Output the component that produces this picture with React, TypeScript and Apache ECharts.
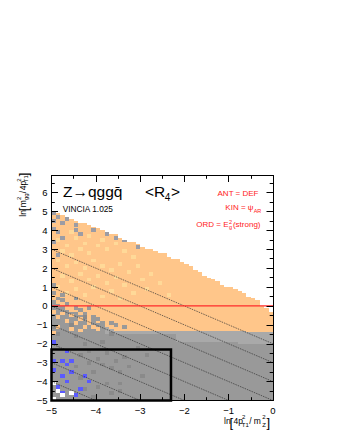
import React, { useEffect, useRef } from 'react';
import * as echarts from 'echarts';

// ---- axes ----
const X_MIN = -5, X_MAX = 0, Y_MIN = -5, Y_MAX = 6.9;
const BIN_X = 0.1, BIN_Y = 0.1;
const NCOL = 50, NROW = 120;

// ---- histogram shape, one value per x column (left edges -5.0 ... -0.1) ----
const upperEdge = [
  5.0, 4.9, 4.8, 4.7, 4.6, 4.5, 4.45, 4.35, 4.3, 4.2,
  4.1, 4.0, 3.9, 3.8, 3.75, 3.65, 3.55, 3.45, 3.35, 3.25,
  3.15, 3.05, 3.0, 2.9, 2.85, 2.75, 2.65, 2.55, 2.45, 2.3,
  2.2, 2.1, 1.95, 1.8, 1.65, 1.5, 1.4, 1.3, 1.15, 1.05,
  1.0, 0.9, 0.8, 0.7, 0.55, 0.4, 0.25, 0.05, -0.1, -0.3,
];
const orangeBottom = [
  0.3, 0.1, 0.0, -0.2, -0.3, -0.3, -0.5, -0.6, -0.8, -0.7,
  -0.9, -1.0, -1.1, -1.2, -1.3, -1.3, -1.3, -1.3, -1.3, -1.3,
  -1.3, -1.3, -1.3, -1.3, -1.3, -1.3, -1.3, -1.3, -1.3, -1.3,
  -1.3, -1.3, -1.3, -1.3, -1.3, -1.3, -1.3, -1.3, -1.3, -1.3,
  -1.3, -1.3, -1.3, -1.3, -1.4, -1.4, -1.4, -1.4, -1.4, -1.4,
];
const lightGrayBottom = [
  0.3, 0.1, 0.0, -0.2, -0.3, -0.3, -0.5, -0.6, -0.8, -0.7,
  -0.9, -1.0, -1.5, -1.5, -1.5, -1.5, -1.5, -1.5, -1.5, -1.5,
  -1.5, -1.5, -1.5, -1.5, -1.5, -1.5, -1.5, -1.5, -1.9, -1.9,
  -1.9, -1.9, -1.9, -1.9, -1.9, -1.9, -1.9, -1.9, -1.9, -1.9,
  -1.9, -1.9, -2.0, -2.0, -2.0, -2.0, -2.0, -2.0, -2.0, -2.0,
];

// ---- individual cells ----
const paleCells = [
  [-4.9, 3.4], [-4.7, 3.1], [-4.5, 3.5], [-4.3, 3.2], [-4.8, 2.8], [-4.6, 2.6], [-4.4, 2.9], [-4.2, 2.7],
  [-4.0, 3.1], [-3.8, 2.9], [-3.6, 3.2], [-3.4, 2.8], [-3.2, 2.5], [-4.9, 2.3], [-4.7, 2.0], [-4.5, 2.2],
  [-4.3, 1.9], [-4.1, 2.3], [-3.9, 2.0], [-3.7, 1.8], [-3.5, 2.1], [-3.3, 1.7], [-3.1, 2.0], [-4.8, 1.5],
  [-4.6, 1.2], [-4.4, 1.6], [-4.2, 1.3], [-4.0, 1.5], [-3.8, 1.1], [-3.6, 1.4], [-3.4, 1.0], [-3.0, 1.3],
  [-2.8, 1.6], [-4.9, 0.9], [-4.7, 0.6], [-4.5, 0.8], [-4.3, 0.5], [-4.1, 0.9], [-3.9, 0.4], [-3.7, 0.7],
  [-3.5, 0.3], [-3.2, 0.6], [-2.9, 0.8], [-2.6, 1.1], [-2.4, 0.5], [-4.6, 3.8], [-4.2, 3.6], [-3.9, 3.4],
];
const grayDots = [
  [-4.95, 4.8], [-4.95, 4.4], [-4.95, 4.0], [-4.85, 4.6], [-4.75, 4.35], [-4.85, 3.8],
  [-4.75, 3.55], [-4.65, 4.5], [-4.45, 4.25], [-4.35, 4.45], [-4.45, 3.95],
  [-4.15, 4.3], [-4.05, 3.9], [-4.4, 3.7], [-3.75, 3.75], [-3.55, 3.55],
  [-3.35, 3.4], [-3.05, 3.05], [-4.95, 3.3], [-4.85, 2.6],
];
const grayInMix = [
  [-4.95, 0.6], [-4.85, 0.35], [-4.75, 0.2], [-4.65, 0.0], [-4.45, -0.2], [-4.35, -0.3],
  [-4.25, -0.45], [-4.05, -0.7], [-3.95, -0.8], [-3.85, -0.95], [-3.65, -1.0], [-3.55, -1.1],
  [-3.35, -1.15], [-4.75, 0.55], [-4.45, 0.3], [-4.95, 1.0], [-4.15, -0.15],
];
const orangeInMix = [
  [-4.95, -0.4], [-4.85, -0.7], [-4.75, -0.5], [-4.65, -0.9], [-4.55, -0.6], [-4.45, -1.0], [-4.35, -0.8],
  [-4.25, -1.15], [-4.15, -1.0], [-4.05, -1.2], [-3.95, -1.25], [-4.85, -1.2], [-4.6, -1.3], [-4.95, -1.5],
  [-4.35, -1.4],
];
const darkCells = [
  [-4.95, -1.2], [-4.55, -1.1], [-4.25, -0.7], [-4.9, -1.6], [-4.5, -1.7],
  [-4.3, -2.1], [-3.9, -2.0], [-3.7, -1.6], [-4.4, -2.7], [-4.2, -2.5],
  [-4.0, -2.9], [-3.8, -2.6], [-3.6, -3.0], [-3.4, -2.8], [-4.5, -3.3], [-4.2, -3.1],
  [-3.9, -3.2], [-3.7, -3.4], [-3.5, -3.6], [-3.3, -3.3], [-4.4, -3.9], [-4.1, -3.6],
  [-3.8, -4.2], [-3.5, -4.2], [-4.3, -4.5], [-4.0, -4.4], [-4.1, -4.9],
  [-3.7, -4.7], [-3.0, -3.8], [-2.9, -2.7], [-3.1, -2.3], [-3.45, -4.6],
];
const blueCells = [
  [-4.96, -1.98], [-4.62, -2.42], [-4.92, -2.96], [-4.78, -2.96], [-4.66, -3.2], [-4.52, -3.0],
  [-4.92, -3.5], [-4.8, -3.75], [-4.25, -3.75], [-4.2, -4.05], [-4.68, -4.1], [-4.85, -4.4],
  [-4.72, -4.65], [-4.36, -4.46], [-4.44, -4.8], [-4.58, -3.6],
];
const whiteCells = [
  [-4.95, -4.15], [-4.88, -4.6], [-4.78, -4.8], [-4.6, -4.7], [-4.95, -4.95],
];

// ---- overlays ----
const diagOffsets = [-2, -3, -4, -5, -6, -7, -8, -9]; // y = -x + c
const cutValue = -2.303; // ln(0.1)

const PALETTE = ['none', '#ffc68a', '#ffd998', '#999999', '#a9a9a9', '#8a8a8a', '#5a5aff', '#ffffff', '#9c9ca4'];
const C = { ORANGE: 1, PALE: 2, GRAY: 3, LIGHT: 4, DARK: 5, BLUE: 6, WHITE: 7, DOT: 8 };

function buildRuns() {
  const grid: number[][] = [];
  for (let i = 0; i < NCOL; i++) {
    const col = new Array(NROW).fill(0);
    for (let j = 0; j < NROW; j++) {
      const yc = Y_MIN + (j + 0.5) * BIN_Y;
      if (yc > upperEdge[i]) continue;
      if (yc > orangeBottom[i]) col[j] = C.ORANGE;
      else if (yc > lightGrayBottom[i]) col[j] = C.LIGHT;
      else col[j] = C.GRAY;
    }
    grid.push(col);
  }
  const paint = (list: number[][], code: number) => {
    list.forEach(([x, y]) => {
      const i = Math.floor((x - X_MIN) / BIN_X + 1e-6);
      const j = Math.floor((y - Y_MIN) / BIN_Y + 1e-6);
      [j, j + 1].forEach((jj) => {
        if (i >= 0 && i < NCOL && jj >= 0 && jj < NROW && grid[i][jj] !== 0) grid[i][jj] = code;
      });
    });
  };
  paint(paleCells, C.PALE);
  paint(grayDots, C.DOT);
  paint(grayInMix, C.GRAY);
  paint(orangeInMix, C.ORANGE);
  paint(darkCells, C.DARK);
  paint(blueCells, C.BLUE);
  paint(whiteCells, C.WHITE);
  const runs: number[][] = [];
  for (let i = 0; i < NCOL; i++) {
    let j = 0;
    while (j < NROW) {
      const c = grid[i][j];
      let k = j;
      while (k < NROW && grid[i][k] === c) k++;
      if (c) runs.push([X_MIN + i * BIN_X, Y_MIN + j * BIN_Y, X_MIN + (i + 1) * BIN_X, Y_MIN + k * BIN_Y, c]);
      j = k;
    }
  }
  return runs;
}

const FONT = "'Liberation Sans', Arial, Helvetica, sans-serif";
function T(text: string, x: number, base: number, fs: number, fill = '#000', align = 'left') {
  return {
    type: 'text', x, y: base - 0.347 * fs, silent: true,
    style: { text, fontSize: fs, fontFamily: FONT, fill, align, verticalAlign: 'middle' },
  };
}

const fmt = (v: number) => {
  const r = Math.round(v * 1000) / 1000;
  if (!Number.isInteger(r)) return '';
  return r < 0 ? '\u2212' + Math.abs(r) : String(r);
};

function axisCommon(show: boolean) {
  return {
    type: 'value', z: 10,
    axisLine: { show: true, onZero: false, lineStyle: { color: '#000', width: 1 } },
    axisTick: { show: true, inside: true, length: 6.5, lineStyle: { color: '#000', width: 1 } },
    minorTick: { show: true, splitNumber: 2, length: 3.3, lineStyle: { color: '#000', width: 1 } },
    splitLine: { show: false },
    minorSplitLine: { show: false },
    axisLabel: { show, color: '#000', fontSize: 9.5, fontFamily: FONT, formatter: fmt, showMinLabel: true, showMaxLabel: true },
  };
}

export default function App() {
  const ref = useRef<HTMLDivElement>(null);
  useEffect(() => {
    const chart = echarts.init(ref.current!, null, { renderer: 'svg' });
    const runs = buildRuns();
    const lineBase = { type: 'line', symbol: 'none', silent: true, animation: false };
    const red = '#ff1a1a';
    const option: any = {
      animation: false,
      grid: { left: 51.5, right: 67, top: 175.5, bottom: 39.5, containLabel: false },
      xAxis: [
        { ...axisCommon(true), position: 'bottom', min: X_MIN, max: X_MAX, interval: 1,
          axisLabel: { ...axisCommon(true).axisLabel, margin: 5 } },
        { ...axisCommon(false), position: 'top', min: X_MIN, max: X_MAX, interval: 1 },
      ],
      yAxis: [
        { ...axisCommon(true), position: 'left', min: Y_MIN, max: Y_MAX, interval: 1,
          axisLabel: { ...axisCommon(true).axisLabel, margin: 4 } },
        { ...axisCommon(false), position: 'right', min: Y_MIN, max: Y_MAX, interval: 1 },
      ],
      series: [
        {
          type: 'custom', silent: true, clip: true, z: 1,
          encode: { x: [0, 2], y: [1, 3] },
          data: runs,
          renderItem: (_p: any, api: any) => {
            const a = api.coord([api.value(0), api.value(3)]);
            const b = api.coord([api.value(2), api.value(1)]);
            const x = Math.round(a[0]), y = Math.round(a[1]);
            const x2 = Math.round(b[0]), y2 = Math.round(b[1]);
            return { type: 'rect', shape: { x, y, width: x2 - x, height: y2 - y }, style: { fill: PALETTE[api.value(4)] } };
          },
        },
        ...diagOffsets.map((c) => ({
          ...lineBase, z: 3,
          data: [[X_MIN, -X_MIN + c], [Math.min(X_MAX, c - Y_MIN), Math.max(c, Y_MIN)]],
          lineStyle: { color: '#333', width: 0.7, type: [1.5, 1] },
        })),
        { ...lineBase, z: 4, data: [[X_MIN, 0], [X_MAX, 0]], lineStyle: { color: '#ff2a2a', width: 1.2 } },
        {
          ...lineBase, z: 5, clip: false,
          data: [[X_MIN, cutValue], [cutValue, cutValue], [cutValue, Y_MIN], [X_MIN, Y_MIN], [X_MIN, cutValue]],
          lineStyle: { color: '#000', width: 2.5, join: 'miter', cap: 'square' },
        },
      ],
      graphic: [
        T('Z\u2192qggq\u0304', 63, 197, 15.5),
        T('<R', 145, 197, 15.5),
        T('4', 164.8, 201, 10),
        T('>', 171, 197, 15.5),
        T('VINCIA 1.025', 62.7, 211.7, 8.3),
        T('ANT = DEF', 258.5, 196.5, 8, red, 'right'),
        T('KIN = \u03c8', 253.5, 210.5, 8, red, 'right'),
        T('AR', 253.7, 212.5, 5.5, red),
        T('ORD = E', 228.5, 227, 8, red, 'right'),
        T('2', 229, 223.5, 5.5, red),
        T('g', 229, 229, 5.5, red),
        T('(strong)', 260.5, 227, 8, red, 'right'),
        // x-axis title
        T('ln', 224, 424, 8.5),
        T('[', 229.5, 427, 13),
        T('4p', 233.5, 424, 8.5),
        T('2', 242, 419.5, 6),
        T('T1', 241.8, 427.5, 6),
        T('/', 249.3, 424, 8.5),
        T('m', 253.8, 424, 8.5),
        T('2', 262.3, 419.5, 6),
        T('Z', 262.3, 427.5, 6),
        T(']', 266.5, 427, 13),
        // y-axis title (rotated)
        {
          type: 'group', x: 25.5, y: 216.7, rotation: Math.PI / 2, silent: true,
          children: [
            T('ln', 0, 0, 8.5),
            T('[', 5.5, 3, 13),
            T('m', 9.5, 0, 8.5),
            T('2', 16.7, -4.5, 6),
            T('gg', 16.7, 2.5, 6),
            T('/', 23.5, 0, 8.5),
            T('4p', 26.5, 0, 8.5),
            T('2', 35, -4.5, 6),
            T('T1', 34.5, 2.5, 6),
            T(']', 40.5, 3, 13),
          ],
        },
      ],
    };
    chart.setOption(option);
    return () => chart.dispose();
  }, []);
  return <div ref={ref} style={{ position: 'absolute', left: 0, top: 0, width: 340, height: 440 }} />;
}
